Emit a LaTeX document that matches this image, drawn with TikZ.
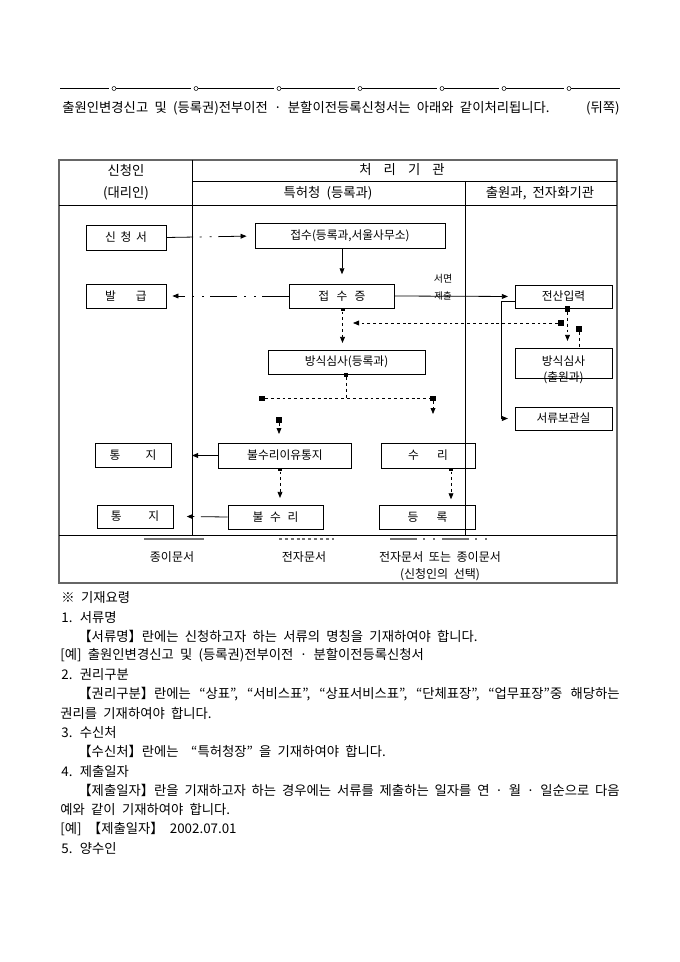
\documentclass[tikz,border=0pt]{standalone}
\usepackage{fontspec}
\setmainfont{Noto Sans CJK KR}[WordSpace=2.1]
\usetikzlibrary{positioning,arrows.meta,calc}

\tikzset{
  flowbox/.style 2 args={draw, inner sep=0pt, font=\fontsize{8.8pt}{11pt}\selectfont,
    minimum width=#1*0.75pt, minimum height=#2*0.75pt},
  arr/.style={-{Triangle[length=4.5pt,width=3.6pt]}},
  elec/.style={dash pattern=on 2.2pt off 2.2pt},
  mixed/.style={dash pattern=on 20pt off 5pt on 1.5pt off 6pt on 1.5pt off 5pt},
  bigsq/.style={fill, inner sep=0pt, minimum size=3.8pt},
  tinysq/.style={fill, inner sep=0pt, minimum width=3pt, minimum height=2.4pt},
  tableframe/.style={draw=black!60, line width=1pt},
  legendline/.style={draw=black!55, line width=1.2pt},
  txt/.style={anchor=west, inner sep=0pt},
  small/.style={inner sep=0pt, font=\fontsize{7.5pt}{9pt}\selectfont},
  legendtxt/.style={font=\fontsize{9pt}{13pt}\selectfont},
}

\begin{document}
\begin{tikzpicture}[x=0.75pt, y=-0.75pt, font=\fontsize{10pt}{13pt}\selectfont, line width=0.6pt]
\useasboundingbox (0,0) rectangle (680,962);

\coordinate (ruleL) at (60,88);
\coordinate (ruleR) at (620,88);
\draw[line width=0.5pt] (ruleL) -- (ruleR);
\foreach \cx in {115,197,280,361,443,505,570}{
  \fill[white] (\cx-6,86) rectangle (\cx,90);
  \draw[line width=0.4pt, fill=white] (\cx-1,88.5) circle (1.5pt);
}
\node[txt] (title) at (62,108) {출원인변경신고 및 (등록권)전부이전 · 분할이전등록신청서는 아래와 같이처리됩니다.};
\node[anchor=east, inner sep=0pt] (back) at (620,108) {(뒤쪽)};

\coordinate (tabNW) at (59,160);
\coordinate (tabSE) at (617,583);
\coordinate (colA) at (192,160);
\coordinate (colB) at (465,181);
\coordinate (headR) at (617,181);
\coordinate (headB) at (59,205);
\coordinate (lgdL) at (59,535);
\draw[tableframe] (tabNW) rectangle (tabSE);
\draw (colA) -- (colA |- lgdL);
\draw (colA |- colB) -- (headR);
\draw (colB) -- (colB |- lgdL);
\draw (headB) -- (headB -| tabSE);
\draw (lgdL) -- (lgdL -| tabSE);

\node (applicant) at (126,170) {신청인};
\node (agent) at (126,193) {(대리인)};
\node (office) at (402,170) {처\hspace{9pt}리\hspace{9pt}기\hspace{9pt}관};
\node (kipo) at (328,193) {특허청 (등록과)};
\node (filing) at (540,193) {출원과, 전자화기관};

\node[flowbox={80}{25}] (sincheong) at (126,237.5) {신\hspace{3.5pt}청\hspace{3.5pt}서};
\node[flowbox={190}{25}] (jeopsu) at (350,236) {접수(등록과,서울사무소)};
\node[flowbox={80}{24}] (balgeup) at (126,296) {발\hspace{15pt}급};
\node[flowbox={105}{24}] (jeopsujeung) at (342,296) {접\hspace{5.5pt}수\hspace{5.5pt}증};
\node[flowbox={97}{23}] (jeonsan) at (563.5,296.5) {전산입력};
\node[flowbox={157}{24}] (bangsikR) at (346.5,362) {방식심사(등록과)};
\node[flowbox={97}{30}] (bangsikC) at (563.5,363) {\smash{\raisebox{-14pt}{\shortstack{방식심사\\[1pt](출원과)}}}};
\node[flowbox={97}{23}] (seoryu) at (563.5,418.5) {서류보관실};
\node[flowbox={133}{25}] (iyu) at (285,455.5) {불수리이유통지};
\node[flowbox={94}{25}] (suri) at (428,455.5) {수\hspace{13.5pt}리};
\node[flowbox={76}{24}] (tongjiA) at (133,455.5) {통\hspace{19pt}지};
\node[flowbox={95}{24}] (bulsuri) at (275.5,517) {불\hspace{5pt}수\hspace{5pt}리};
\node[flowbox={96}{24}] (deungrok) at (427.5,517) {등\hspace{13.5pt}록};
\node[flowbox={76}{23}] (tongjiB) at (135,516.5) {통\hspace{20pt}지};

\node[bigsq] (sqA) at (567.5,309) {};
\node[bigsq] (sqB) at (579,329) {};
\node[bigsq] (sqC) at (561,323) {};
\node[tinysq] (sqD) at (342.5,309.5) {};
\node[tinysq] (sqE) at (346,375) {};
\node[bigsq] (sqF) at (262,398.5) {};
\node[bigsq] (sqG) at (433,398.5) {};
\node[bigsq] (sqH) at (279,420) {};
\node[tinysq] (sqI) at (280,469.5) {};
\node[tinysq] (sqJ) at (451,469.5) {};
\coordinate (tipC) at (353,323);
\coordinate (tipG) at (433,414);
\coordinate (tipH) at (279,434);

\node[small] (seomyeon) at (443,279) {서면};
\node[small, font=\fontsize{7pt}{8pt}\selectfont] (jechul) at (443,296) {제출};

\draw[mixed,arr,shorten >=6pt] (sincheong.east) -- (jeopsu.west);
\draw[arr,shorten >=7pt] (jeopsujeung.north |- jeopsu.south) -- (jeopsujeung.north);
\draw[mixed,arr] (jeopsujeung.west) -- ([xshift=4.5pt]balgeup.east);
\draw[arr,shorten >=5pt] (jeopsujeung.east) -- (jeonsan.west);
\draw[arr,shorten >=5pt] ([yshift=-4pt]jeonsan.west) -- ++(-13,0) |- (seoryu.west);
\draw[elec,arr] (sqA) -- ([yshift=5pt]sqA |- bangsikC.north);
\draw[elec] (sqB) -- (sqB |- bangsikC.north);
\draw[elec,arr] (sqC) -- (tipC);
\draw[elec,arr] (sqD) -- ([yshift=5pt]sqD |- bangsikR.north);
\draw[elec] (sqE) -- (sqE |- sqF);
\draw[elec] (sqF) -- (sqG);
\draw[elec,arr] (sqG) -- (tipG);
\draw[elec,arr] (sqH) -- (tipH);
\draw[arr] (iyu.west) -- (iyu.west -| colA);
\draw[elec,arr] (sqI) -- ([yshift=5pt]sqI |- bulsuri.north);
\draw[mixed,arr] (bulsuri.west) -- ([xshift=10pt]tongjiB.east);
\draw[elec,arr] (sqJ) -- ([yshift=4pt]sqJ |- deungrok.north);

\coordinate (lgP1) at (144,539);
\coordinate (lgP2) at (204,539);
\coordinate (lgE1) at (279,539);
\coordinate (lgE2) at (334,539);
\coordinate (lgM1) at (390,539);
\coordinate (lgM2) at (490,539);
\draw[legendline] (lgP1) -- (lgP2);
\draw[legendline,elec] (lgE1) -- (lgE2);
\draw[legendline,mixed] (lgM1) -- (lgM2);
\node[legendtxt] (lgpaper) at (172,557) {종이문서};
\node[legendtxt] (lgelec) at (304,557) {전자문서};
\node[legendtxt, align=center] (lgmix) at (440,566) {전자문서 또는 종이문서\\(신청인의 선택)};

\node[txt] (note) at (61,598) {※ 기재요령};
\node[txt] (itemA) at (61,617.2) {1. 서류명};
\node[txt] (itemAa) at (78,636.5) {【서류명】란에는 신청하고자 하는 서류의 명칭을 기재하여야 합니다.};
\node[txt] (itemAb) at (60,655.7) {[예] 출원인변경신고 및 (등록권)전부이전 · 분할이전등록신청서};
\node[txt] (itemB) at (61,674.9) {2. 권리구분};
\node[txt] (itemBa) at (78,694.2) {\makebox[406pt][s]{【권리구분】란에는 “상표”, “서비스표”, “상표서비스표”, “단체표장”, “업무표장”중 해당하는}};
\node[txt] (itemBb) at (60,713.4) {권리를 기재하여야 합니다.};
\node[txt] (itemC) at (61,732.6) {3. 수신처};
\node[txt] (itemCa) at (78,751.8) {【수신처】란에는\ \ “특허청장” 을 기재하여야 합니다.};
\node[txt] (itemD) at (61,771.1) {4. 제출일자};
\node[txt] (itemDa) at (78,790.3) {\makebox[406pt][s]{【제출일자】란을 기재하고자 하는 경우에는 서류를 제출하는 일자를 연 · 월 · 일순으로 다음}};
\node[txt] (itemDb) at (60,809.5) {예와 같이 기재하여야 합니다.};
\node[txt] (itemDc) at (60,828.8) {[예] 【제출일자】 2002.07.01};
\node[txt] (itemE) at (61,848) {5. 양수인};
\end{tikzpicture}
\end{document}
